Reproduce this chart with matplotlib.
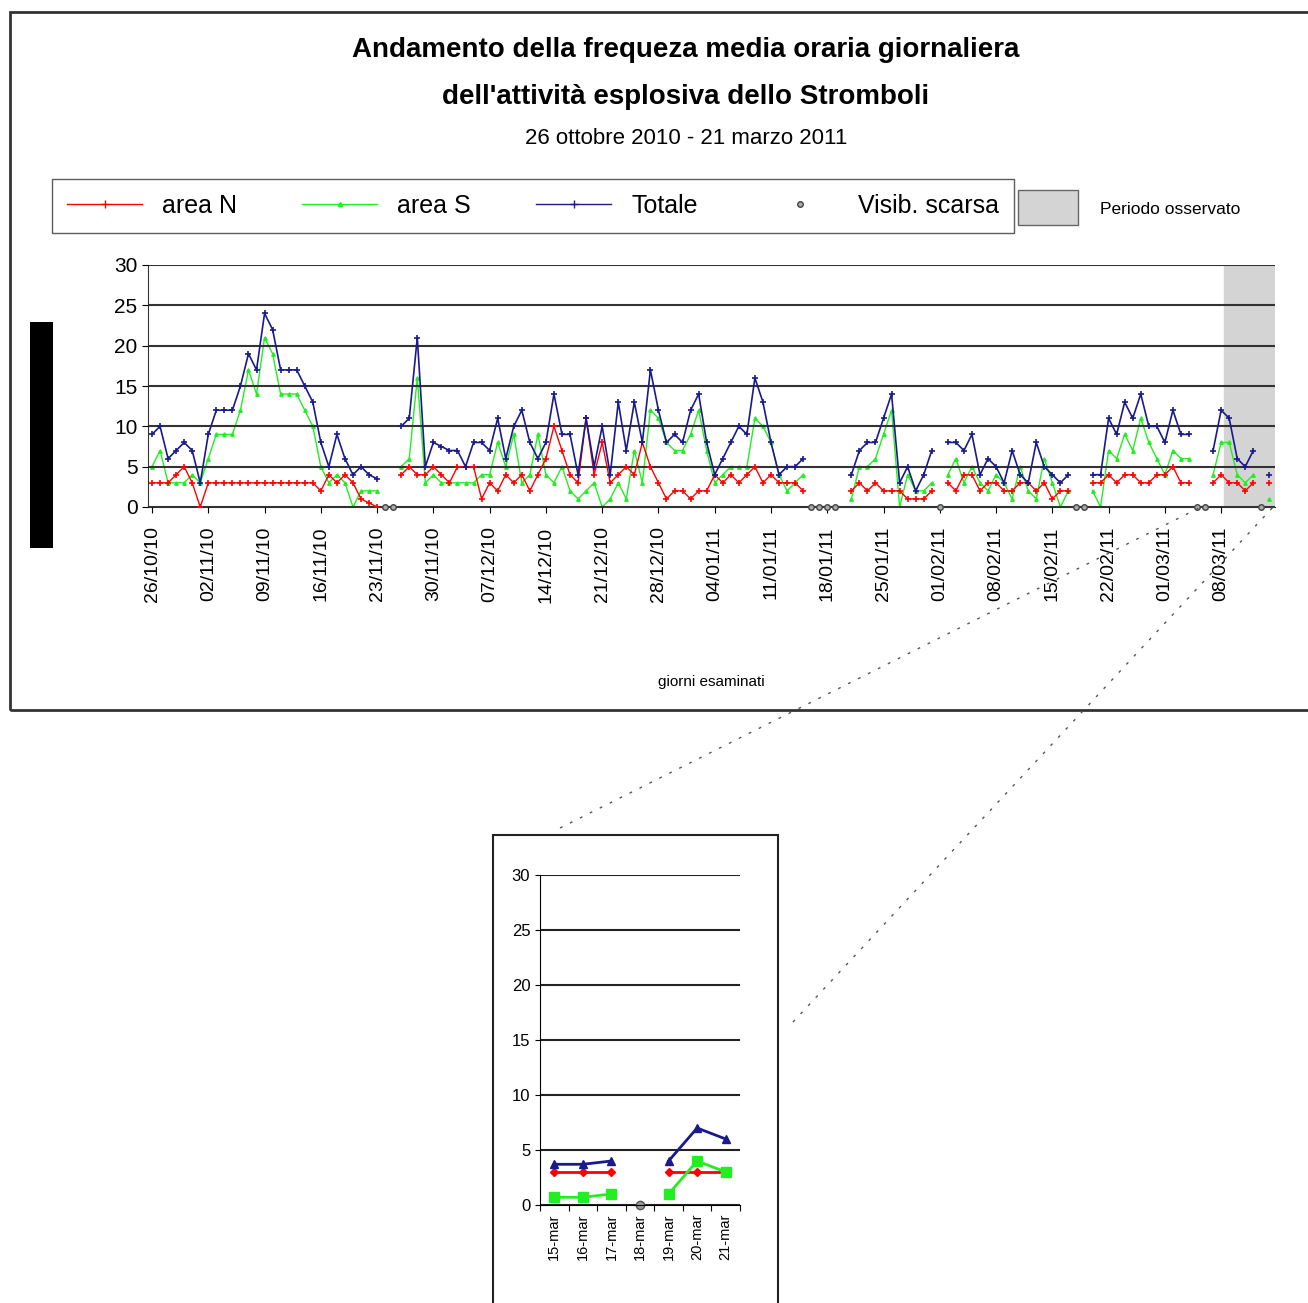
import numpy as np
import matplotlib.pyplot as plt
from matplotlib.lines import Line2D
from matplotlib.patches import Rectangle
import datetime as dt

plt.rcParams['font.family'] = ['Liberation Sans', 'DejaVu Sans']

W, H = 1308, 1303
nan = np.nan

# daily values, 26/10/2010 onward (index = day number); nan = no data
day_start = dt.date(2010, 10, 26)
n_days = 140
seg_days = [0, 31, 87, 99, 117, 132, 139]
tot_segs = [
    [9, 10, 6, 7, 8, 7, 3, 9, 12, 12, 12, 15, 19, 17, 24, 22, 17, 17, 17, 15, 13, 8, 5, 9, 6, 4, 5, 4, 3.5],
    [10, 11, 21, 5, 8, 7.5, 7, 7, 5, 8, 8, 7, 11, 6, 10, 12, 8, 6, 8, 14, 9, 9, 4, 11, 5, 10, 4, 13, 7, 13,
     8, 17, 12, 8, 9, 8, 12, 14, 8, 4, 6, 8, 10, 9, 16, 13, 8, 4, 5, 5, 6],
    [4, 7, 8, 8, 11, 14, 3, 5, 2, 4, 7],
    [8, 8, 7, 9, 4, 6, 5, 3, 7, 4, 3, 8, 5, 4, 3, 4],
    [4, 4, 11, 9, 13, 11, 14, 10, 10, 8, 12, 9, 9],
    [7, 12, 11, 6, 5, 7],
    [4],
]
areaS_segs = [
    [5, 7, 3, 3, 3, 4, 3, 6, 9, 9, 9, 12, 17, 14, 21, 19, 14, 14, 14, 12, 10, 5, 3, 4, 3, 0, 2, 2, 2],
    [5, 6, 16, 3, 4, 3, 3, 3, 3, 3, 4, 4, 8, 5, 9, 3, 4, 9, 4, 3, 5, 2, 1, 2, 3, 0, 1, 3, 1, 7,
     3, 12, 11, 8, 7, 7, 9, 12, 7, 3, 4, 5, 5, 5, 11, 10, 8, 4, 2, 3, 4],
    [1, 5, 5, 6, 9, 12, 0, 4, 2, 2, 3],
    [4, 6, 3, 5, 3, 2, 4, 3, 1, 5, 2, 1, 6, 3, 0, 2],
    [2, 0, 7, 6, 9, 7, 11, 8, 6, 4, 7, 6, 6],
    [4, 8, 8, 4, 3, 4],
    [1],
]
areaN_segs = [
    [3, 3, 3, 4, 5, 3, 0, 3, 3, 3, 3, 3, 3, 3, 3, 3, 3, 3, 3, 3, 3, 2, 4, 3, 4, 3, 1, 0.5, 0],
    [4, 5, 4, 4, 5, 4, 3, 5, 5, 5, 1, 3, 2, 4, 3, 4, 2, 4, 6, 10, 7, 4, 3, 11, 4, 8, 3, 4, 5, 4,
     8, 5, 3, 1, 2, 2, 1, 2, 2, 4, 3, 4, 3, 4, 5, 3, 4, 3, 3, 3, 2],
    [2, 3, 2, 3, 2, 2, 2, 1, 1, 1, 2],
    [3, 2, 4, 4, 2, 3, 3, 2, 2, 3, 3, 2, 3, 1, 2, 2],
    [3, 3, 4, 3, 4, 4, 3, 3, 4, 4, 5, 3, 3],
    [3, 4, 3, 3, 2, 3],
    [3],
]
visib_days = [29, 30, 82, 83, 84, 85, 98, 115, 116, 130, 131, 138]

# zoom panel, 15-21 March
zoom_labels = ['15-mar', '16-mar', '17-mar', '18-mar', '19-mar', '20-mar', '21-mar']
zoom_tot = [3.7, 3.7, 4, nan, 4, 7, 6]
zoom_N = [3, 3, 3, nan, 3, 3, 3]
zoom_S = [0.7, 0.7, 1, nan, 1, 4, 3]
zoom_visib = [3]


def build(segs):
    arr = np.full(n_days, nan)
    for d0, seg in zip(seg_days, segs):
        arr[d0:d0 + len(seg)] = seg
    return arr


tot = build(tot_segs)
areaS = build(areaS_segs)
areaN = build(areaN_segs)
days = np.arange(n_days)

fig = plt.figure(figsize=(W / 100, H / 100), dpi=100)


def fx(px):
    return px / W


def fy(py):
    return 1 - py / H


# outer frame of the main chart
fig.add_artist(Rectangle((fx(10), fy(710)), fx(1320), 698 / H, fill=False, lw=2, ec='#333333'))
fig.add_artist(Rectangle((fx(30), fy(548)), fx(23), 226 / H, fc='black', ec='none'))

fig.text(fx(686), fy(50), "Andamento della frequeza media oraria giornaliera", ha='center', va='center',
         fontsize=20, fontweight='bold')
fig.text(fx(686), fy(97), "dell'attività esplosiva dello Stromboli", ha='center', va='center',
         fontsize=20, fontweight='bold')
fig.text(fx(686), fy(138), "26 ottobre 2010 - 21 marzo 2011", ha='center', va='center', fontsize=16)

ax = fig.add_axes([fx(148), fy(507), fx(1275 - 148), (507 - 265) / H])
ax.axvspan(133.3, 140, color='#d4d4d4', zorder=0)
ax.plot(days, areaN, color='red', lw=1, marker='+', ms=4, mew=1.2, zorder=3)
ax.plot(days, areaS, color='#22ee22', lw=1, marker='^', ms=2.5, zorder=2)
ax.plot(days, tot, color='#1a1a8c', lw=1.2, marker='+', ms=4, mew=1.2, zorder=4)
ax.plot(visib_days, np.zeros(len(visib_days)), ls='none', marker='o', ms=4, mfc='#aaaaaa', mec='#444444',
        zorder=5, clip_on=False)
ax.set_xlim(-0.5, 139.7)
ax.set_ylim(0, 30)
ax.set_yticks(range(0, 31, 5))
ax.yaxis.grid(True, color='#333333', lw=1.5)
ax.set_axisbelow(False)
tick_days = np.arange(0, 134, 7)
ax.set_xticks(tick_days)
ax.set_xticklabels([(day_start + dt.timedelta(days=int(d))).strftime('%d/%m/%y') for d in tick_days],
                   rotation=90, fontsize=14)
ax.tick_params(axis='y', labelsize=15, length=4)
ax.tick_params(axis='x', length=4, pad=10)
for s in ['right', 'top']:
    ax.spines[s].set_visible(False)
ax.spines['left'].set_color('#333333')
ax.spines['bottom'].set_color('#333333')
ax.set_xlabel('giorni esaminati', fontsize=11, labelpad=52)

handles = [Line2D([], [], color='red', marker='+', lw=1),
           Line2D([], [], color='#22ee22', marker='^', ms=3, lw=1),
           Line2D([], [], color='#1a1a8c', marker='+', lw=1),
           Line2D([], [], ls='none', marker='o', ms=4, mfc='#aaaaaa', mec='#444444')]
fig.legend(handles, ['area N', 'area S', 'Totale', 'Visib. scarsa'], ncol=4, loc='center',
           bbox_to_anchor=(fx(533), fy(206)), fontsize=18, frameon=True, fancybox=False,
           edgecolor='#333333', columnspacing=2.6, handlelength=3, borderpad=0.6)
fig.add_artist(Rectangle((fx(1018), fy(225)), fx(60), 35 / H, fc='#d4d4d4', ec='#666666'))
fig.text(fx(1100), fy(209), 'Periodo osservato', fontsize=12.5, va='center')

# dotted zoom lines
fig.add_artist(Line2D([fx(560), fx(1205)], [fy(828), fy(505)], ls=(0, (2, 6)), color='#555555', lw=1))
fig.add_artist(Line2D([fx(793), fx(1275)], [fy(1022), fy(505)], ls=(0, (2, 6)), color='#555555', lw=1))

# zoom panel
fig.add_artist(Rectangle((fx(493), fy(1320)), fx(285), 485 / H, fill=False, lw=1.5, ec='#222222'))
ax2 = fig.add_axes([fx(540), fy(1205), fx(200), (1205 - 875) / H])
zx = np.arange(len(zoom_labels))
ax2.plot(zx, zoom_N, color='red', lw=2, marker='D', ms=4)
ax2.plot(zx, zoom_S, color='#22ee22', lw=2, marker='s', ms=7)
ax2.plot(zx, zoom_tot, color='#1a1a8c', lw=2, marker='^', ms=6)
ax2.plot(zoom_visib, [0] * len(zoom_visib), ls='none', marker='o', ms=6, mfc='#999999', mec='#555555',
         clip_on=False)
ax2.set_xlim(-0.5, 6.5)
ax2.set_ylim(0, 30)
ax2.set_yticks(range(0, 31, 5))
ax2.yaxis.grid(True, color='#222222', lw=1.5)
ax2.set_xticks(np.arange(-0.5, 7, 1), minor=False)
ax2.set_xticklabels([])
ax2.set_xticks(zx, minor=True)
ax2.set_xticklabels(zoom_labels, minor=True, rotation=90, fontsize=10.5)
ax2.tick_params(axis='x', which='minor', length=0, pad=6)
ax2.tick_params(axis='x', which='major', length=4)
ax2.tick_params(axis='y', labelsize=12)
for s in ['right', 'top']:
    ax2.spines[s].set_visible(False)

fig.savefig('out.png', dpi=100)
